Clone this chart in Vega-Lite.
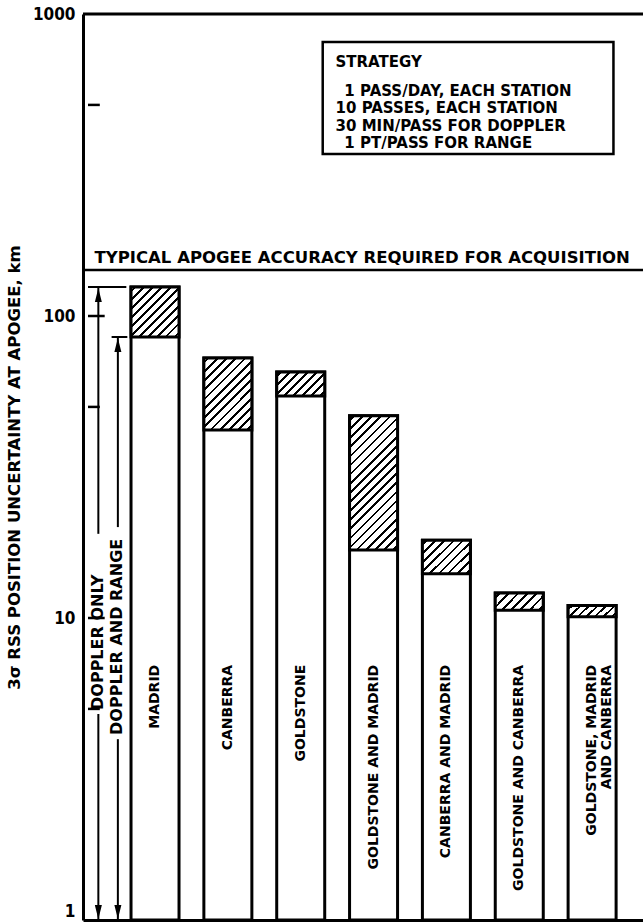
{
"$schema":"https://vega.github.io/schema/vega-lite/v6.json",
"autosize":{"type":"none"},
"padding":{"left":83,"top":14,"right":0,"bottom":2},
"width":560,"height":906,
"background":"#ffffff",
"config":{"view":{"stroke":null},"font":"DejaVu Sans","axis":{"grid":false}},
"datasets":{
"bars":[
{"slot":1,"station":"MADRID","label":"MADRID","upper":124.8,"lower":85.2},
{"slot":2,"station":"CANBERRA","label":"CANBERRA","upper":72.6,"lower":41.9},
{"slot":3,"station":"GOLDSTONE","label":"GOLDSTONE","upper":65.3,"lower":54.3},
{"slot":4,"station":"GOLDSTONE AND MADRID","label":"GOLDSTONE AND MADRID","upper":46.7,"lower":16.8},
{"slot":5,"station":"CANBERRA AND MADRID","label":"CANBERRA AND MADRID","upper":18.1,"lower":14.0},
{"slot":6,"station":"GOLDSTONE AND CANBERRA","label":"GOLDSTONE AND CANBERRA","upper":12.1,"lower":10.6},
{"slot":7,"station":"GOLDSTONE, MADRID AND CANBERRA","label":"GOLDSTONE, MADRID\nAND CANBERRA","upper":11.0,"lower":10.1}
],
"one":[{}],
"ticks":[{"v":5,"k":"minor"},{"v":10,"k":"major"},{"v":50,"k":"minor"},{"v":100,"k":"major"},{"v":500,"k":"minor"}],
"dimv":[{"xpos":0.222,"from":1,"to":4.81},{"xpos":0.222,"from":19,"to":124.8},{"xpos":0.49,"from":1,"to":3.97},{"xpos":0.49,"from":20,"to":85.2}],
"dimh":[{"yv":124.8,"x1":0.08,"x2":0.606},{"yv":85.2,"x1":0.404,"x2":0.62}],
"heads":[{"xpos":0.222,"yv":117.4,"dir":"up"},{"xpos":0.222,"yv":1.063,"dir":"down"},{"xpos":0.49,"yv":80.2,"dir":"up"},{"xpos":0.49,"yv":1.063,"dir":"down"}],
"dimlabels":[{"xpos":0.215,"yv":4.96,"text":"DOPPLER ONLY"},{"xpos":0.484,"yv":4.10,"text":"DOPPLER AND RANGE"}],
"legend":[
{"xpos":3.478,"yv":693,"text":"STRATEGY"},
{"xpos":3.599,"yv":555.9,"text":"1 PASS/DAY, EACH STATION"},
{"xpos":3.478,"yv":486.6,"text":"10 PASSES, EACH STATION"},
{"xpos":3.478,"yv":425.8,"text":"30 MIN/PASS FOR DOPPLER"},
{"xpos":3.599,"yv":372.6,"text":"1 PT/PASS FOR RANGE"}
],
"typical":[{"xpos":0.17,"yv":149.8,"text":"TYPICAL APOGEE ACCURACY REQUIRED FOR ACQUISITION"}]
},
"layer":[
{"data":{"name":"bars"},"mark":{"type":"bar","orient":"vertical","size":48,"fill":"#ffffff","stroke":"#000","strokeWidth":3},
 "encoding":{
  "x":{"field":"slot","type":"quantitative","scale":{"domain":[0.08,7.63],"nice":false,"zero":false},"axis":{"labels":false,"ticks":false,"domain":true,"domainWidth":3,"domainColor":"#000","grid":false,"title":null}},
  "y":{"field":"upper","type":"quantitative","scale":{"type":"log","domain":[1,1000],"nice":false},
   "axis":{"values":[1,10,100,1000],"format":"d","ticks":false,"domain":true,"domainWidth":3,"domainColor":"#000","grid":false,
    "labelFont":"Liberation Sans Narrow, DejaVu Sans Condensed, Liberation Sans","labelFontSize":17,"labelFontWeight":"bold","labelColor":"#000","labelPadding":8,"labelFlush":false,"labelOverlap":false,
    "labelBaseline":{"condition":{"test":"datum.value==1","value":"bottom"},"value":"middle"},
    "title":"3σ RSS POSITION UNCERTAINTY AT APOGEE, km","titleFont":"DejaVu Sans","titleFontSize":16.5,"titleFontWeight":"bold","titleColor":"#000","titlePadding":10}},
  "y2":{"datum":1}
 }},
{"data":{"name":"one"},"mark":{"type":"rule","strokeWidth":3,"color":"#000"},
 "encoding":{"y":{"datum":1000,"type":"quantitative","scale":{"type":"log","domain":[1,1000],"nice":false}}}},
{"data":{"name":"one"},"mark":{"type":"rule","strokeWidth":2.5,"color":"#000"},
 "encoding":{"y":{"datum":142,"type":"quantitative","scale":{"type":"log","domain":[1,1000],"nice":false}}}},
{"data":{"name":"bars"},"mark":{"type":"bar","orient":"vertical","size":48,"stroke":"#000","strokeWidth":3},
 "encoding":{
  "x":{"field":"slot","type":"quantitative","scale":{"domain":[0.08,7.63],"nice":false,"zero":false}},
  "y":{"field":"upper","type":"quantitative","scale":{"type":"log","domain":[1,1000],"nice":false}},
  "y2":{"field":"lower"},
  "fill":{"condition":[
   {"test":"datum.slot==1","value":{"gradient":"linear","x1":0,"y1":0,"x2":0.979,"y2":1.02,"stops":[
    {"offset":0.0318,"color":"#fff"},{"offset":0.0318,"color":"#000"},{"offset":0.0591,"color":"#000"},{"offset":0.0591,"color":"#fff"},
    {"offset":0.1227,"color":"#fff"},{"offset":0.1227,"color":"#000"},{"offset":0.15,"color":"#000"},{"offset":0.15,"color":"#fff"},
    {"offset":0.2136,"color":"#fff"},{"offset":0.2136,"color":"#000"},{"offset":0.2409,"color":"#000"},{"offset":0.2409,"color":"#fff"},
    {"offset":0.3045,"color":"#fff"},{"offset":0.3045,"color":"#000"},{"offset":0.3318,"color":"#000"},{"offset":0.3318,"color":"#fff"},
    {"offset":0.3955,"color":"#fff"},{"offset":0.3955,"color":"#000"},{"offset":0.4227,"color":"#000"},{"offset":0.4227,"color":"#fff"},
    {"offset":0.4864,"color":"#fff"},{"offset":0.4864,"color":"#000"},{"offset":0.5136,"color":"#000"},{"offset":0.5136,"color":"#fff"},
    {"offset":0.5773,"color":"#fff"},{"offset":0.5773,"color":"#000"},{"offset":0.6045,"color":"#000"},{"offset":0.6045,"color":"#fff"},
    {"offset":0.6682,"color":"#fff"},{"offset":0.6682,"color":"#000"},{"offset":0.6955,"color":"#000"},{"offset":0.6955,"color":"#fff"},
    {"offset":0.7591,"color":"#fff"},{"offset":0.7591,"color":"#000"},{"offset":0.7864,"color":"#000"},{"offset":0.7864,"color":"#fff"},
    {"offset":0.85,"color":"#fff"},{"offset":0.85,"color":"#000"},{"offset":0.8773,"color":"#000"},{"offset":0.8773,"color":"#fff"},
    {"offset":0.9409,"color":"#fff"},{"offset":0.9409,"color":"#000"},{"offset":0.9682,"color":"#000"},{"offset":0.9682,"color":"#fff"}]}},
   {"test":"datum.slot==2","value":{"gradient":"linear","x1":0,"y1":0,"x2":0.769,"y2":1.154,"stops":[
    {"offset":0.0269,"color":"#fff"},{"offset":0.0269,"color":"#000"},{"offset":0.05,"color":"#000"},{"offset":0.05,"color":"#fff"},
    {"offset":0.1038,"color":"#fff"},{"offset":0.1038,"color":"#000"},{"offset":0.1269,"color":"#000"},{"offset":0.1269,"color":"#fff"},
    {"offset":0.1808,"color":"#fff"},{"offset":0.1808,"color":"#000"},{"offset":0.2038,"color":"#000"},{"offset":0.2038,"color":"#fff"},
    {"offset":0.2577,"color":"#fff"},{"offset":0.2577,"color":"#000"},{"offset":0.2808,"color":"#000"},{"offset":0.2808,"color":"#fff"},
    {"offset":0.3346,"color":"#fff"},{"offset":0.3346,"color":"#000"},{"offset":0.3577,"color":"#000"},{"offset":0.3577,"color":"#fff"},
    {"offset":0.4115,"color":"#fff"},{"offset":0.4115,"color":"#000"},{"offset":0.4346,"color":"#000"},{"offset":0.4346,"color":"#fff"},
    {"offset":0.4885,"color":"#fff"},{"offset":0.4885,"color":"#000"},{"offset":0.5115,"color":"#000"},{"offset":0.5115,"color":"#fff"},
    {"offset":0.5654,"color":"#fff"},{"offset":0.5654,"color":"#000"},{"offset":0.5885,"color":"#000"},{"offset":0.5885,"color":"#fff"},
    {"offset":0.6423,"color":"#fff"},{"offset":0.6423,"color":"#000"},{"offset":0.6654,"color":"#000"},{"offset":0.6654,"color":"#fff"},
    {"offset":0.7192,"color":"#fff"},{"offset":0.7192,"color":"#000"},{"offset":0.7423,"color":"#000"},{"offset":0.7423,"color":"#fff"},
    {"offset":0.7962,"color":"#fff"},{"offset":0.7962,"color":"#000"},{"offset":0.8192,"color":"#000"},{"offset":0.8192,"color":"#fff"},
    {"offset":0.8731,"color":"#fff"},{"offset":0.8731,"color":"#000"},{"offset":0.8962,"color":"#000"},{"offset":0.8962,"color":"#fff"},
    {"offset":0.95,"color":"#fff"},{"offset":0.95,"color":"#000"},{"offset":0.9731,"color":"#000"},{"offset":0.9731,"color":"#fff"}]}},
   {"test":"datum.slot==3","value":{"gradient":"linear","x1":0,"y1":0,"x2":1.2,"y2":0.6,"stops":[
    {"offset":0.0438,"color":"#fff"},{"offset":0.0438,"color":"#000"},{"offset":0.0813,"color":"#000"},{"offset":0.0813,"color":"#fff"},
    {"offset":0.1688,"color":"#fff"},{"offset":0.1688,"color":"#000"},{"offset":0.2063,"color":"#000"},{"offset":0.2063,"color":"#fff"},
    {"offset":0.2938,"color":"#fff"},{"offset":0.2938,"color":"#000"},{"offset":0.3313,"color":"#000"},{"offset":0.3313,"color":"#fff"},
    {"offset":0.4188,"color":"#fff"},{"offset":0.4188,"color":"#000"},{"offset":0.4563,"color":"#000"},{"offset":0.4563,"color":"#fff"},
    {"offset":0.5438,"color":"#fff"},{"offset":0.5438,"color":"#000"},{"offset":0.5813,"color":"#000"},{"offset":0.5813,"color":"#fff"},
    {"offset":0.6688,"color":"#fff"},{"offset":0.6688,"color":"#000"},{"offset":0.7063,"color":"#000"},{"offset":0.7063,"color":"#fff"},
    {"offset":0.7938,"color":"#fff"},{"offset":0.7938,"color":"#000"},{"offset":0.8313,"color":"#000"},{"offset":0.8313,"color":"#fff"},
    {"offset":0.9188,"color":"#fff"},{"offset":0.9188,"color":"#000"},{"offset":0.9563,"color":"#000"},{"offset":0.9563,"color":"#fff"}]}},
   {"test":"datum.slot==4","value":{"gradient":"linear","x1":0,"y1":0,"x2":0.431,"y2":1.204,"stops":[
    {"offset":0.0175,"color":"#fff"},{"offset":0.0175,"color":"#000"},{"offset":0.0325,"color":"#000"},{"offset":0.0325,"color":"#fff"},
    {"offset":0.0675,"color":"#fff"},{"offset":0.0675,"color":"#000"},{"offset":0.0825,"color":"#000"},{"offset":0.0825,"color":"#fff"},
    {"offset":0.1175,"color":"#fff"},{"offset":0.1175,"color":"#000"},{"offset":0.1325,"color":"#000"},{"offset":0.1325,"color":"#fff"},
    {"offset":0.1675,"color":"#fff"},{"offset":0.1675,"color":"#000"},{"offset":0.1825,"color":"#000"},{"offset":0.1825,"color":"#fff"},
    {"offset":0.2175,"color":"#fff"},{"offset":0.2175,"color":"#000"},{"offset":0.2325,"color":"#000"},{"offset":0.2325,"color":"#fff"},
    {"offset":0.2675,"color":"#fff"},{"offset":0.2675,"color":"#000"},{"offset":0.2825,"color":"#000"},{"offset":0.2825,"color":"#fff"},
    {"offset":0.3175,"color":"#fff"},{"offset":0.3175,"color":"#000"},{"offset":0.3325,"color":"#000"},{"offset":0.3325,"color":"#fff"},
    {"offset":0.3675,"color":"#fff"},{"offset":0.3675,"color":"#000"},{"offset":0.3825,"color":"#000"},{"offset":0.3825,"color":"#fff"},
    {"offset":0.4175,"color":"#fff"},{"offset":0.4175,"color":"#000"},{"offset":0.4325,"color":"#000"},{"offset":0.4325,"color":"#fff"},
    {"offset":0.4675,"color":"#fff"},{"offset":0.4675,"color":"#000"},{"offset":0.4825,"color":"#000"},{"offset":0.4825,"color":"#fff"},
    {"offset":0.5175,"color":"#fff"},{"offset":0.5175,"color":"#000"},{"offset":0.5325,"color":"#000"},{"offset":0.5325,"color":"#fff"},
    {"offset":0.5675,"color":"#fff"},{"offset":0.5675,"color":"#000"},{"offset":0.5825,"color":"#000"},{"offset":0.5825,"color":"#fff"},
    {"offset":0.6175,"color":"#fff"},{"offset":0.6175,"color":"#000"},{"offset":0.6325,"color":"#000"},{"offset":0.6325,"color":"#fff"},
    {"offset":0.6675,"color":"#fff"},{"offset":0.6675,"color":"#000"},{"offset":0.6825,"color":"#000"},{"offset":0.6825,"color":"#fff"},
    {"offset":0.7175,"color":"#fff"},{"offset":0.7175,"color":"#000"},{"offset":0.7325,"color":"#000"},{"offset":0.7325,"color":"#fff"},
    {"offset":0.7675,"color":"#fff"},{"offset":0.7675,"color":"#000"},{"offset":0.7825,"color":"#000"},{"offset":0.7825,"color":"#fff"},
    {"offset":0.8175,"color":"#fff"},{"offset":0.8175,"color":"#000"},{"offset":0.8325,"color":"#000"},{"offset":0.8325,"color":"#fff"},
    {"offset":0.8675,"color":"#fff"},{"offset":0.8675,"color":"#000"},{"offset":0.8825,"color":"#000"},{"offset":0.8825,"color":"#fff"},
    {"offset":0.9175,"color":"#fff"},{"offset":0.9175,"color":"#000"},{"offset":0.9325,"color":"#000"},{"offset":0.9325,"color":"#fff"},
    {"offset":0.9675,"color":"#fff"},{"offset":0.9675,"color":"#000"},{"offset":0.9825,"color":"#000"},{"offset":0.9825,"color":"#fff"}]}},
   {"test":"datum.slot==5","value":{"gradient":"linear","x1":0,"y1":0,"x2":1.138,"y2":0.806,"stops":[
    {"offset":0.0389,"color":"#fff"},{"offset":0.0389,"color":"#000"},{"offset":0.0722,"color":"#000"},{"offset":0.0722,"color":"#fff"},
    {"offset":0.15,"color":"#fff"},{"offset":0.15,"color":"#000"},{"offset":0.1833,"color":"#000"},{"offset":0.1833,"color":"#fff"},
    {"offset":0.2611,"color":"#fff"},{"offset":0.2611,"color":"#000"},{"offset":0.2944,"color":"#000"},{"offset":0.2944,"color":"#fff"},
    {"offset":0.3722,"color":"#fff"},{"offset":0.3722,"color":"#000"},{"offset":0.4056,"color":"#000"},{"offset":0.4056,"color":"#fff"},
    {"offset":0.4833,"color":"#fff"},{"offset":0.4833,"color":"#000"},{"offset":0.5167,"color":"#000"},{"offset":0.5167,"color":"#fff"},
    {"offset":0.5944,"color":"#fff"},{"offset":0.5944,"color":"#000"},{"offset":0.6278,"color":"#000"},{"offset":0.6278,"color":"#fff"},
    {"offset":0.7056,"color":"#fff"},{"offset":0.7056,"color":"#000"},{"offset":0.7389,"color":"#000"},{"offset":0.7389,"color":"#fff"},
    {"offset":0.8167,"color":"#fff"},{"offset":0.8167,"color":"#000"},{"offset":0.85,"color":"#000"},{"offset":0.85,"color":"#fff"},
    {"offset":0.9278,"color":"#fff"},{"offset":0.9278,"color":"#000"},{"offset":0.9611,"color":"#000"},{"offset":0.9611,"color":"#fff"}]}},
   {"test":"datum.slot==6","value":{"gradient":"linear","x1":0,"y1":0,"x2":1.203,"y2":0.426,"stops":[
    {"offset":0.05,"color":"#fff"},{"offset":0.05,"color":"#000"},{"offset":0.0929,"color":"#000"},{"offset":0.0929,"color":"#fff"},
    {"offset":0.1929,"color":"#fff"},{"offset":0.1929,"color":"#000"},{"offset":0.2357,"color":"#000"},{"offset":0.2357,"color":"#fff"},
    {"offset":0.3357,"color":"#fff"},{"offset":0.3357,"color":"#000"},{"offset":0.3786,"color":"#000"},{"offset":0.3786,"color":"#fff"},
    {"offset":0.4786,"color":"#fff"},{"offset":0.4786,"color":"#000"},{"offset":0.5214,"color":"#000"},{"offset":0.5214,"color":"#fff"},
    {"offset":0.6214,"color":"#fff"},{"offset":0.6214,"color":"#000"},{"offset":0.6643,"color":"#000"},{"offset":0.6643,"color":"#fff"},
    {"offset":0.7643,"color":"#fff"},{"offset":0.7643,"color":"#000"},{"offset":0.8071,"color":"#000"},{"offset":0.8071,"color":"#fff"},
    {"offset":0.9071,"color":"#fff"},{"offset":0.9071,"color":"#000"},{"offset":0.95,"color":"#000"},{"offset":0.95,"color":"#fff"}]}},
   {"test":"datum.slot==7","value":{"gradient":"linear","x1":0,"y1":0,"x2":1.176,"y2":0.294,"stops":[
    {"offset":0.05,"color":"#fff"},{"offset":0.05,"color":"#000"},{"offset":0.0929,"color":"#000"},{"offset":0.0929,"color":"#fff"},
    {"offset":0.1929,"color":"#fff"},{"offset":0.1929,"color":"#000"},{"offset":0.2357,"color":"#000"},{"offset":0.2357,"color":"#fff"},
    {"offset":0.3357,"color":"#fff"},{"offset":0.3357,"color":"#000"},{"offset":0.3786,"color":"#000"},{"offset":0.3786,"color":"#fff"},
    {"offset":0.4786,"color":"#fff"},{"offset":0.4786,"color":"#000"},{"offset":0.5214,"color":"#000"},{"offset":0.5214,"color":"#fff"},
    {"offset":0.6214,"color":"#fff"},{"offset":0.6214,"color":"#000"},{"offset":0.6643,"color":"#000"},{"offset":0.6643,"color":"#fff"},
    {"offset":0.7643,"color":"#fff"},{"offset":0.7643,"color":"#000"},{"offset":0.8071,"color":"#000"},{"offset":0.8071,"color":"#fff"},
    {"offset":0.9071,"color":"#fff"},{"offset":0.9071,"color":"#000"},{"offset":0.95,"color":"#000"},{"offset":0.95,"color":"#fff"}]}}
  ],"value":"#888888"}
 }},
{"data":{"name":"ticks"},"transform":[{"filter":"datum.k=='major'"}],"mark":{"type":"rule","strokeWidth":2.5,"color":"#000"},
 "encoding":{
  "y":{"field":"v","type":"quantitative","scale":{"type":"log","domain":[1,1000],"nice":false}},
  "x":{"datum":0.08,"type":"quantitative","scale":{"domain":[0.08,7.63],"nice":false,"zero":false}},
  "x2":{"datum":0.309}}},
{"data":{"name":"ticks"},"transform":[{"filter":"datum.k=='minor'"}],"mark":{"type":"rule","strokeWidth":2.5,"color":"#000"},
 "encoding":{
  "y":{"field":"v","type":"quantitative","scale":{"type":"log","domain":[1,1000],"nice":false}},
  "x":{"datum":0.08,"type":"quantitative","scale":{"domain":[0.08,7.63],"nice":false,"zero":false}},
  "x2":{"datum":0.242}}},
{"data":{"name":"bars"},"mark":{"type":"text","angle":270,"align":"right","baseline":"middle","font":"DejaVu Sans","fontWeight":"bold","fontSize":14,"color":"#000","lineBreak":"\n","lineHeight":15},
 "encoding":{
  "x":{"field":"slot","type":"quantitative","scale":{"domain":[0.08,7.63],"nice":false,"zero":false}},
  "y":{"datum":7,"type":"quantitative","scale":{"type":"log","domain":[1,1000],"nice":false}},
  "text":{"field":"label","type":"nominal"}}},
{"data":{"name":"dimv"},"mark":{"type":"rule","strokeWidth":2,"color":"#000"},
 "encoding":{
  "x":{"field":"xpos","type":"quantitative","scale":{"domain":[0.08,7.63],"nice":false,"zero":false}},
  "y":{"field":"from","type":"quantitative","scale":{"type":"log","domain":[1,1000],"nice":false}},
  "y2":{"field":"to"}}},
{"data":{"name":"dimh"},"mark":{"type":"rule","strokeWidth":2,"color":"#000"},
 "encoding":{
  "x":{"field":"x1","type":"quantitative","scale":{"domain":[0.08,7.63],"nice":false,"zero":false}},
  "x2":{"field":"x2"},
  "y":{"field":"yv","type":"quantitative","scale":{"type":"log","domain":[1,1000],"nice":false}}}},
{"data":{"name":"heads"},"mark":{"type":"point","filled":true,"size":196,"color":"#000","opacity":1},
 "encoding":{
  "x":{"field":"xpos","type":"quantitative","scale":{"domain":[0.08,7.63],"nice":false,"zero":false}},
  "y":{"field":"yv","type":"quantitative","scale":{"type":"log","domain":[1,1000],"nice":false}},
  "shape":{"field":"dir","type":"nominal","scale":{"domain":["up","down"],"range":["M0,-1L0.5,1L-0.5,1Z","M0,1L0.5,-1L-0.5,-1Z"]},"legend":null}}},
{"data":{"name":"dimlabels"},"mark":{"type":"text","angle":270,"align":"left","baseline":"middle","font":"DejaVu Sans","fontWeight":"bold","fontSize":16,"color":"#000"},
 "encoding":{
  "x":{"field":"xpos","type":"quantitative","scale":{"domain":[0.08,7.63],"nice":false,"zero":false}},
  "y":{"field":"yv","type":"quantitative","scale":{"type":"log","domain":[1,1000],"nice":false}},
  "text":{"field":"text","type":"nominal"}}},
{"data":{"name":"one"},"mark":{"type":"rect","fill":"#fff","stroke":"#000","strokeWidth":2.5},
 "encoding":{
  "x":{"datum":3.302,"type":"quantitative","scale":{"domain":[0.08,7.63],"nice":false,"zero":false}},
  "x2":{"datum":7.293},
  "y":{"datum":808,"type":"quantitative","scale":{"type":"log","domain":[1,1000],"nice":false}},
  "y2":{"datum":343.9}}},
{"data":{"name":"legend"},"mark":{"type":"text","align":"left","baseline":"middle","font":"DejaVu Sans","fontWeight":"bold","fontSize":15,"color":"#000"},
 "encoding":{
  "x":{"field":"xpos","type":"quantitative","scale":{"domain":[0.08,7.63],"nice":false,"zero":false}},
  "y":{"field":"yv","type":"quantitative","scale":{"type":"log","domain":[1,1000],"nice":false}},
  "text":{"field":"text","type":"nominal"}}},
{"data":{"name":"typical"},"mark":{"type":"text","align":"left","baseline":"alphabetic","font":"DejaVu Sans","fontWeight":"bold","fontSize":16.5,"color":"#000"},
 "encoding":{
  "x":{"field":"xpos","type":"quantitative","scale":{"domain":[0.08,7.63],"nice":false,"zero":false}},
  "y":{"field":"yv","type":"quantitative","scale":{"type":"log","domain":[1,1000],"nice":false}},
  "text":{"field":"text","type":"nominal"}}}
]
}
